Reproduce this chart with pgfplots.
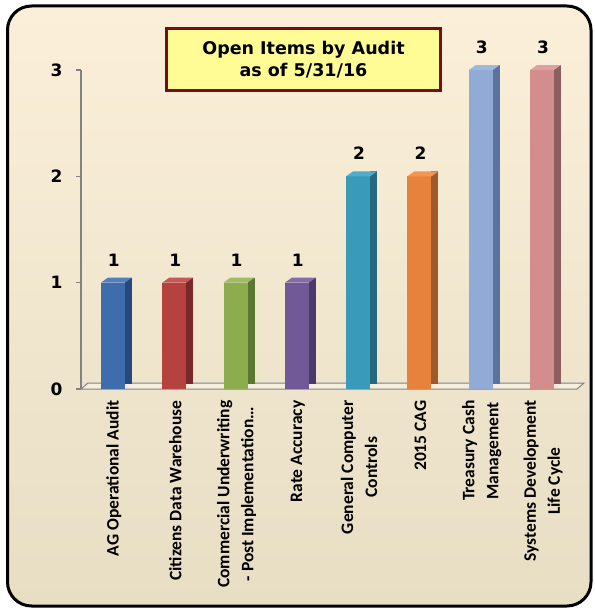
\documentclass[border=0pt]{standalone}
\usepackage{pgfplots}
\pgfplotsset{compat=1.18}
\usepackage{fontspec}
\setmainfont{DejaVu Sans}
\newfontfamily\carlito{Carlito}
\definecolor{bgtop}{RGB}{251,239,217}
\definecolor{bgbot}{RGB}{231,222,196}
\definecolor{titlefill}{RGB}{255,252,150}
\definecolor{titledraw}{RGB}{115,15,15}
\definecolor{floorfill}{RGB}{246,238,220}
\definecolor{axgray}{RGB}{130,130,130}
% front, side, top
\definecolor{f0}{RGB}{62,108,172}\definecolor{s0}{RGB}{38,72,125}\definecolor{t0}{RGB}{80,128,192}
\definecolor{f1}{RGB}{182,66,63}\definecolor{s1}{RGB}{120,40,40}\definecolor{t1}{RGB}{196,88,84}
\definecolor{f2}{RGB}{140,172,78}\definecolor{s2}{RGB}{92,118,52}\definecolor{t2}{RGB}{158,188,96}
\definecolor{f3}{RGB}{113,89,152}\definecolor{s3}{RGB}{74,57,105}\definecolor{t3}{RGB}{132,108,170}
\definecolor{f4}{RGB}{58,154,186}\definecolor{s4}{RGB}{38,104,126}\definecolor{t4}{RGB}{80,172,202}
\definecolor{f5}{RGB}{230,130,60}\definecolor{s5}{RGB}{160,90,42}\definecolor{t5}{RGB}{240,150,84}
\definecolor{f6}{RGB}{145,170,214}\definecolor{s6}{RGB}{92,114,156}\definecolor{t6}{RGB}{160,184,224}
\definecolor{f7}{RGB}{211,141,141}\definecolor{s7}{RGB}{140,94,94}\definecolor{t7}{RGB}{222,160,160}
\pgfdeclareplotmark{topface}{%
  \pgfpathmoveto{\pgfpoint{-12pt}{0pt}}%
  \pgfpathlineto{\pgfpoint{12pt}{0pt}}%
  \pgfpathlineto{\pgfpoint{19pt}{5pt}}%
  \pgfpathlineto{\pgfpoint{-5pt}{5pt}}%
  \pgfpathclose
  \pgfusepathqfill}
\newcommand\tdbar[4]{%
  \addplot[ybar, bar width=7pt, bar shift=15.5pt, yshift=5pt, fill=s#3, draw=none] coordinates {(#1,#2)};
  \addplot[ybar, bar width=24pt, bar shift=0pt, fill=f#3, draw=none,
    nodes near coords, nodes near coords style={font=\fontsize{17}{20}\selectfont\bfseries, text=black, anchor=south, yshift=13pt, xshift=1pt}] coordinates {(#1,#2)};
  \addplot[only marks, mark=topface, mark options={fill=t#3, draw=none}] coordinates {(#1,#2)};
}
\begin{document}
\begin{tikzpicture}
\useasboundingbox (0,0) rectangle (594pt,-609pt);
\shade[top color=bgtop, bottom color=bgbot, rounded corners=24pt] (7.5pt,-6pt) rectangle (591pt,-606pt);
\draw[line width=3pt, black, rounded corners=24pt] (7.5pt,-6pt) rectangle (591pt,-606pt);
\begin{axis}[
  at={(81pt,-389pt)}, anchor=south west,
  scale only axis, width=496pt, height=319pt,
  xmin=-0.52, xmax=7.57, ymin=0, ymax=3,
  clip=false,
  axis lines*=left,
  x axis line style={draw=none},
  y axis line style={draw=axgray, line width=1.2pt},
  ytick={0,1,2,3},
  ytick style={draw=axgray, line width=1.2pt},
  major tick length=5pt, tick align=outside,
  xtick={0,1,2,3,4,5,6,7},
  xtick style={draw=none},
  /pgf/number format/assume math mode=true,
  yticklabel style={font=\fontsize{17}{20}\selectfont\bfseries, xshift=-10pt},
  xticklabel style={font=\carlito\bfseries\fontsize{17.5}{24}\selectfont, yshift=-3pt, xshift=1pt, rotate=90, anchor=east, align=center},
  xticklabels={AG Operational Audit, Citizens Data Warehouse, {Commercial Underwriting\\- Post Implementation\ldots}, Rate Accuracy, {General Computer\\Controls}, 2015 CAG, {Treasury Cash\\Management}, {Systems Development\\Life Cycle}},
]
\draw[axgray, line width=1pt, fill=floorfill] (rel axis cs:0,0) -- (rel axis cs:1,0) -- ++(7pt,6pt) -- ++(-496pt,0pt) -- cycle;
\tdbar{0}{1}{0}{}
\tdbar{1}{1}{1}{}
\tdbar{2}{1}{2}{}
\tdbar{3}{1}{3}{}
\tdbar{4}{2}{4}{}
\tdbar{5}{2}{5}{}
\tdbar{6}{3}{6}{}
\tdbar{7}{3}{7}{}
\end{axis}
\node[draw=titledraw, line width=3pt, fill=titlefill, minimum width=274pt, minimum height=62pt, align=center,
  font=\fontsize{17.5}{22}\selectfont\bfseries] at (303.5pt,-59.5pt) {Open Items by Audit\\as of 5/31/16};
\end{tikzpicture}
\end{document}
